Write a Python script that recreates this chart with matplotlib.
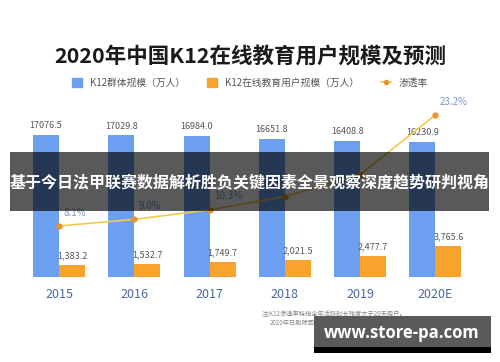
import matplotlib
matplotlib.use("Agg")
import matplotlib.pyplot as plt
from matplotlib.patches import Rectangle, Patch
from matplotlib.lines import Line2D
import numpy as np

plt.rcParams['font.family'] = ['Noto Sans CJK SC', 'DejaVu Sans']

years = ["2015", "2016", "2017", "2018", "2019", "2020E"]
k12_population = [17076.5, 17029.8, 16984.0, 16651.8, 16408.8, 16230.9]
online_users = [1383.2, 1532.7, 1749.7, 2021.5, 2477.7, 3765.6]
penetration = [8.1, 9.0, 10.3, 12.1, 15.1, 23.2]
pen_labels_shown = [True, True, True, False, False, True]

title = "2020年中国K12在线教育用户规模及预测"
legend_labels = ["K12群体规模（万人）", "K12在线教育用户规模（万人）", "渗透率"]
note_lines = ["注:K12渗透率特指全年活跃时长跨度大于20天用户。",
              "2020年已剔除因新冠疫情官方统一组织的非营利性临时线上教学人数。"]
banner_text = "基于今日法甲联赛数据解析胜负关键因素全景观察深度趋势研判视角"
watermark = "www.store-pa.com"

W, H = 500, 362
fig = plt.figure(figsize=(W / 100, H / 100), dpi=100)
fig.patch.set_facecolor("white")

left, right = 21.4 / W, 473 / W
bottom, top = 1 - 277 / H, 1 - 100 / H
ax = fig.add_axes([left, bottom, right - left, top - bottom])

blue = "#6d9ff0"
orange = "#f7a32c"
x = np.arange(len(years))
bw = 0.345
b1 = ax.bar(x - bw / 2, k12_population, width=bw, color=blue, zorder=2)
b2 = ax.bar(x + bw / 2, online_users, width=bw, color=orange, zorder=2)
ax.bar_label(b1, labels=[f"{v:.1f}" for v in k12_population], padding=3.5,
             fontsize=6.5, color="#555555")
ax.bar_label(b2, labels=[f"{v:,.1f}" for v in online_users], padding=3.5,
             fontsize=6.5, color="#555555")
ax.set_xlim(-0.5, 5.5)
ax.set_ylim(0, 21285)
ax.axhline(0, color="#eeeeee", lw=0.8, zorder=1)
ax.set_xticks(x)
ax.set_xticklabels(years, fontsize=9, color="#4a6aa0")
ax.tick_params(axis="x", length=0, pad=8)
ax.set_yticks([])
for s in ax.spines.values():
    s.set_visible(False)

ax2 = ax.twinx()
ax2.plot(x, penetration, color="#f2c94c", lw=1.2, marker="o", ms=3.5,
         mfc="#e8952a", mec="#e8952a", zorder=3)
ax2.set_ylim(1.16, 25.24)
ax2.set_yticks([])
for s in ax2.spines.values():
    s.set_visible(False)
for xi, v, show in zip(x, penetration, pen_labels_shown):
    if show:
        ax2.annotate(f"{v}%", (xi, v), xytext=(3, 6), textcoords="offset points",
                     ha="left", va="bottom", fontsize=7, color="#7b96c8")

fig.text(0.5, 1 - 57 / H, title, ha="center", va="center", fontsize=15.5,
         fontweight="bold", color="#1a1a1a")

handles = [Patch(color=blue), Patch(color=orange),
           Line2D([], [], color="#f2c94c", lw=1.2, marker="o", ms=3,
                  mfc="#e8952a", mec="#e8952a")]
fig.legend(handles, legend_labels, loc="center", bbox_to_anchor=(0.5, 1 - 83 / H),
           ncol=3, frameon=False, fontsize=7, labelcolor="#555555",
           handlelength=1.0, handleheight=1.0, columnspacing=2.3, handletextpad=0.8)

fig.text(262 / W, 1 - 314 / H, note_lines[0], ha="left", va="center",
         fontsize=4.5, color="#888888")
fig.text(270 / W, 1 - 323 / H, note_lines[1], ha="left", va="center",
         fontsize=4.5, color="#888888")

# overlay banner
fig.add_artist(Rectangle((10 / W, 1 - 211 / H), 479 / W, 59 / H,
                         transform=fig.transFigure, color="black", alpha=0.65,
                         lw=0, zorder=10))
fig.text(0.5, 1 - 182 / H, banner_text, ha="center", va="center", fontsize=11.5,
         fontweight="bold", color="white", zorder=11)

# watermark box
fig.add_artist(Rectangle((314 / W, 1 - 353 / H), 177 / W, 37 / H,
                         transform=fig.transFigure, color="#5a5a5a", lw=0, zorder=10))
fig.add_artist(Rectangle((314 / W, 1 - 353 / H), 177 / W, 6 / H,
                         transform=fig.transFigure, color="black", lw=0, zorder=10))
fig.text(402 / W, 1 - 333 / H, watermark, ha="center", va="center", fontsize=12,
         fontweight="bold", color="white", zorder=11, family=["Open Sans", "DejaVu Sans"])

fig.savefig("out.png", dpi=100)
